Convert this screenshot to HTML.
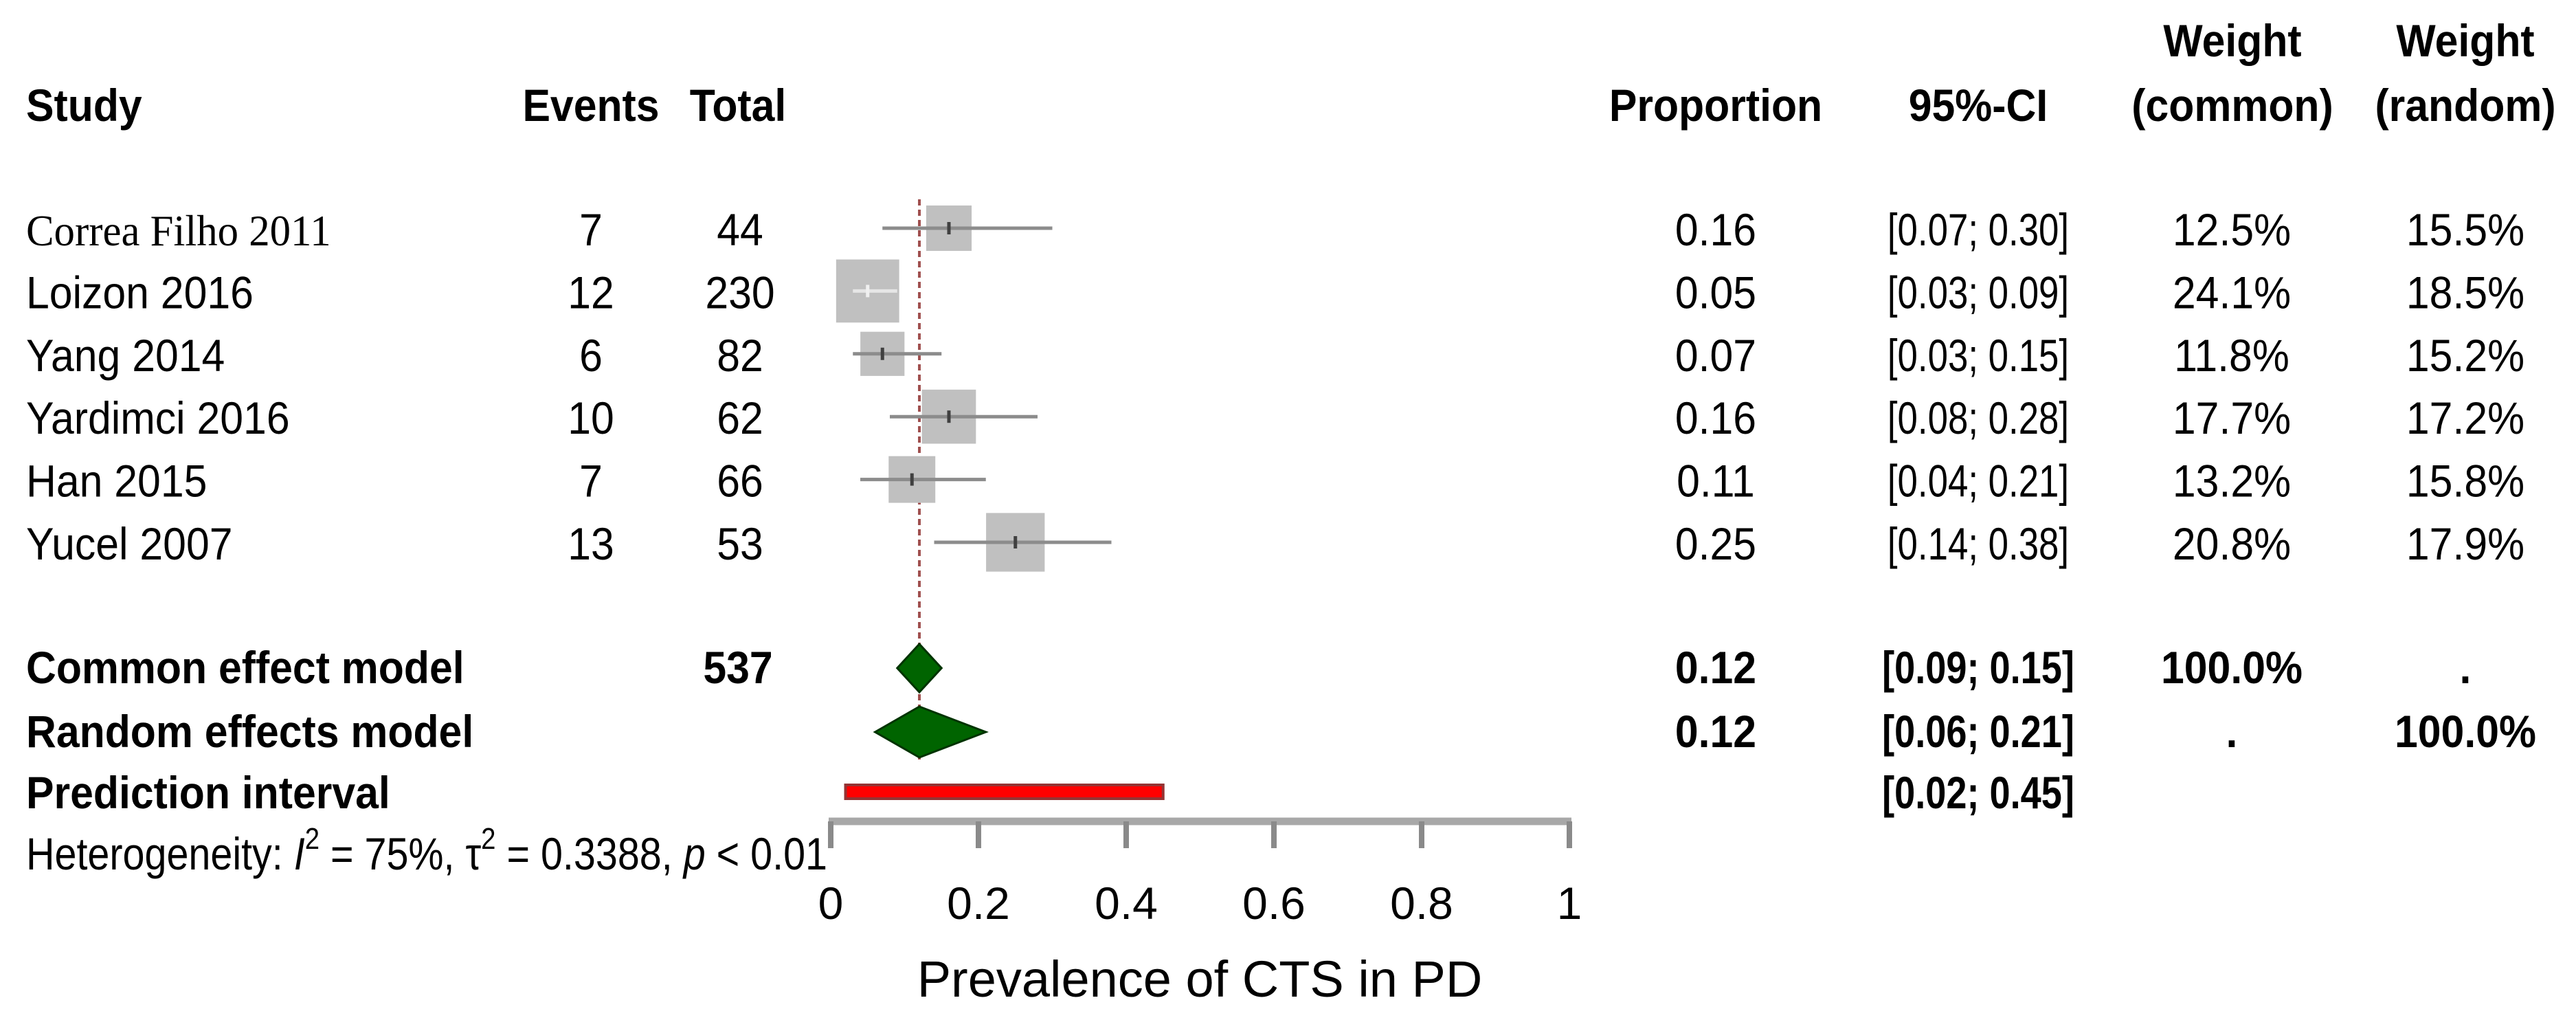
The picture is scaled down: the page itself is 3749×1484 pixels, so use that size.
<!DOCTYPE html>
<html><head><meta charset="utf-8">
<style>
html,body{margin:0;padding:0;background:#fff;}
svg{display:block;}
text{font-family:"Liberation Sans",Arial,sans-serif;fill:#000;}
</style></head>
<body>
<svg id="chart" width="3749" height="1484" viewBox="0 0 3749 1484" xmlns="http://www.w3.org/2000/svg">
<rect x="0" y="0" width="3749" height="1484" fill="#fff"/>
<g id="marks"></g>
<g id="labels"></g>
</svg>
<script>
const studies = ["Correa Filho 2011","Loizon 2016","Yang 2014","Yardimci 2016","Han 2015","Yucel 2007"];
const events = [7,12,6,10,7,13];
const totals = [44,230,82,62,66,53];
const props = [0.16,0.05,0.07,0.16,0.11,0.25];
const ciLow = [0.07,0.03,0.03,0.08,0.04,0.14];
const ciHigh = [0.30,0.09,0.15,0.28,0.21,0.38];
const wCommon = [12.5,24.1,11.8,17.7,13.2,20.8];
const wRandom = [15.5,18.5,15.2,17.2,15.8,17.9];
const commonEst = [0.12,0.09,0.15];
const randomEst = [0.12,0.06,0.21];
const predInt = [0.02,0.45];
const totalN = 537;
const xTicks = [0,0.2,0.4,0.6,0.8,1];
const xTickLabels = ["0","0.2","0.4","0.6","0.8","1"];

const NS = "http://www.w3.org/2000/svg";
const marks = document.getElementById("marks");
const labels = document.getElementById("labels");
const X0 = 1209, XS = 1075;
function xScale(v){ return X0 + v*XS; }
function rowY(i){ return 332 + i*91.4; }
const yCommon = 972, yRandom = 1065, yPI = 1152;

function mk(tag, attrs, parent, name, inter){
  const el = document.createElementNS(NS, tag);
  for (const k in attrs) el.setAttribute(k, attrs[k]);
  
  
  parent.appendChild(el);
  return el;
}
const condensed = [];
function txt(x, y, s, name, opt){
  opt = opt || {};
  const t = mk('text', {x:x, y:y, 'font-size': opt.size || 66, 'text-anchor': opt.anchor || 'start',
    'font-weight': opt.bold ? 'bold' : 'normal'}, labels, name, false);
  if (opt.serif) t.setAttribute('style', 'font-family:"Liberation Serif",serif');
  t.textContent = s;
  if (opt.cond !== 0) condensed.push([t, opt.cond || 0.92]);
  return t;
}

// reference dashed line
mk('line', {x1:xScale(commonEst[0]), x2:xScale(commonEst[0]), y1:290, y2:1105, stroke:'#a0504f', 'stroke-width':4, 'stroke-dasharray':'9,6'}, marks, 'common-effect-reference-line', false);

// study rows
studies.forEach((s, i) => {
  const y = rowY(i);
  const sz = 18.7*Math.sqrt(wCommon[i]);
  mk('rect', {x:xScale(props[i])-sz/2, y:y-sz/2, width:sz, height:sz, fill:'#c0c0c0'}, marks, 'study-weight-square', false);
  mk('line', {x1:xScale(ciLow[i]), x2:xScale(ciHigh[i]), y1:y, y2:y, stroke: i===1 ? '#e6e6e6' : '#8c8c8c', 'stroke-width':5}, marks, 'study-ci-line', false);
  mk('line', {x1:xScale(props[i]), x2:xScale(props[i]), y1:y-9, y2:y+9, stroke: i===1 ? '#f0f0f0' : '#404040', 'stroke-width':5}, marks, 'study-point-estimate', false);
  const by = y + 25;
  if (i === 0) txt(38, by, s, 'study-name', {serif:true, size:64, cond:0.95});
  else txt(38, by, s, 'study-name');
  txt(860, by, String(events[i]), 'events-value', {anchor:'middle'});
  txt(1077, by, String(totals[i]), 'total-value', {anchor:'middle'});
  txt(2497, by, props[i].toFixed(2), 'proportion-value', {anchor:'middle'});
  txt(2879, by, '[' + ciLow[i].toFixed(2) + '; ' + ciHigh[i].toFixed(2) + ']', 'ci-value', {anchor:'middle', cond:0.8});
  txt(3248, by, wCommon[i].toFixed(1) + '%', 'weight-common-value', {anchor:'middle'});
  txt(3588, by, wRandom[i].toFixed(1) + '%', 'weight-random-value', {anchor:'middle'});
});

// diamonds
function diamond(est, y, h, name){
  const pts = [[xScale(est[1]),y],[xScale(est[0]),y-h],[xScale(est[2]),y],[xScale(est[0]),y+h]].map(p=>p.join(',')).join(' ');
  mk('polygon', {points:pts, fill:'#006400', stroke:'#003300', 'stroke-width':3}, marks, name, false);
}
diamond(commonEst, yCommon, 35, 'common-effect-diamond');
diamond(randomEst, yRandom, 37, 'random-effects-diamond');

// prediction interval
mk('rect', {x:xScale(predInt[0]), y:yPI-10, width:xScale(predInt[1])-xScale(predInt[0]), height:20, fill:'#ff0000', stroke:'#943434', 'stroke-width':4}, marks, 'prediction-interval-bar', false);

// axis
mk('line', {x1:xScale(0)-3, x2:xScale(1)+3, y1:1195, y2:1195, stroke:'#a8a8a8', 'stroke-width':11}, marks, 'x-axis-line', false);
xTicks.forEach((v, i) => {
  mk('line', {x1:xScale(v), x2:xScale(v), y1:1195, y2:1234, stroke:'#8a8a8a', 'stroke-width':8}, marks, 'x-axis-tick', false);
  txt(xScale(v), 1337, xTickLabels[i], 'x-tick-label', {anchor:'middle', cond:0});
});
txt(1746, 1450, 'Prevalence of CTS in PD', 'x-axis-title', {anchor:'middle', size:74, cond:0});

// headers
txt(38, 176, 'Study', 'study-header', {bold:true});
txt(860, 176, 'Events', 'events-header', {bold:true, anchor:'middle'});
txt(1074, 176, 'Total', 'total-header', {bold:true, anchor:'middle'});
txt(2497, 176, 'Proportion', 'proportion-header', {bold:true, anchor:'middle'});
txt(2879, 176, '95%-CI', 'ci-header', {bold:true, anchor:'middle'});
txt(3249, 82, 'Weight', 'weight-common-header', {bold:true, anchor:'middle'});
txt(3249, 176, '(common)', 'weight-common-subheader', {bold:true, anchor:'middle'});
txt(3588, 82, 'Weight', 'weight-random-header', {bold:true, anchor:'middle'});
txt(3588, 176, '(random)', 'weight-random-subheader', {bold:true, anchor:'middle'});

// summary rows
const bc = yCommon + 22, br = yRandom + 22, bp = yPI + 24;
txt(38, bc, 'Common effect model', 'common-effect-label', {bold:true});
txt(1074, bc, String(totalN), 'total-n', {bold:true, anchor:'middle'});
txt(2497, bc, commonEst[0].toFixed(2), 'common-proportion', {bold:true, anchor:'middle'});
txt(2879, bc, '[' + commonEst[1].toFixed(2) + '; ' + commonEst[2].toFixed(2) + ']', 'common-ci', {bold:true, anchor:'middle', cond:0.82});
txt(3248, bc, '100.0%', 'common-weight-total', {bold:true, anchor:'middle'});
txt(3588, bc, '.', 'common-weight-random', {bold:true, anchor:'middle'});
txt(38, br, 'Random effects model', 'random-effects-label', {bold:true});
txt(2497, br, randomEst[0].toFixed(2), 'random-proportion', {bold:true, anchor:'middle'});
txt(2879, br, '[' + randomEst[1].toFixed(2) + '; ' + randomEst[2].toFixed(2) + ']', 'random-ci', {bold:true, anchor:'middle', cond:0.82});
txt(3248, br, '.', 'random-weight-common', {bold:true, anchor:'middle'});
txt(3588, br, '100.0%', 'random-weight-total', {bold:true, anchor:'middle'});
txt(38, bp, 'Prediction interval', 'prediction-interval-label', {bold:true});
txt(2879, bp, '[' + predInt[0].toFixed(2) + '; ' + predInt[1].toFixed(2) + ']', 'prediction-interval-ci', {bold:true, anchor:'middle', cond:0.82});

// heterogeneity
const h = txt(38, 1265, '', 'heterogeneity-text', {cond:0});
h.innerHTML = 'Heterogeneity: <tspan font-style="italic">I</tspan><tspan dy="-30" font-size="44">2</tspan><tspan dy="30"> = 75%, τ</tspan><tspan dy="-30" font-size="44">2</tspan><tspan dy="30"> = 0.3388, </tspan><tspan font-style="italic">p</tspan> &lt; 0.01';

// condense text widths to mimic narrow font
condensed.forEach(([t, f]) => {
  const L = t.getComputedTextLength();
  if (L > 0) { t.setAttribute('textLength', (L*f).toFixed(1)); t.setAttribute('lengthAdjust', 'spacingAndGlyphs'); }
});
const hl = h.getComputedTextLength();
if (hl > 0) { h.setAttribute('textLength', 1166); h.setAttribute('lengthAdjust', 'spacingAndGlyphs'); }
</script>
</body></html>
